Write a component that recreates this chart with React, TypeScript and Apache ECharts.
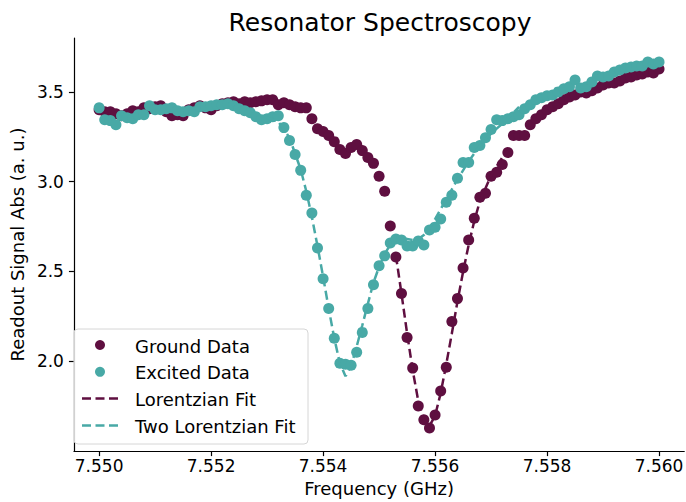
import React, { useEffect, useRef } from "react";
import * as echarts from "echarts";

const PURPLE = "#5f0f40";
const TEAL = "#48a9a6";
const FONT = "DejaVu Sans";

const freq = [
  7.5500, 7.5501, 7.5502, 7.5503, 7.5504, 7.5505, 7.5506, 7.5507, 7.5508, 7.5509,
  7.5510, 7.5511, 7.5512, 7.5513, 7.5514, 7.5515, 7.5516, 7.5517, 7.5518, 7.5519,
  7.5520, 7.5521, 7.5522, 7.5523, 7.5524, 7.5525, 7.5526, 7.5527, 7.5528, 7.5529,
  7.5530, 7.5531, 7.5532, 7.5533, 7.5534, 7.5535, 7.5536, 7.5537, 7.5538, 7.5539,
  7.5540, 7.5541, 7.5542, 7.5543, 7.5544, 7.5545, 7.5546, 7.5547, 7.5548, 7.5549,
  7.5550, 7.5551, 7.5552, 7.5553, 7.5554, 7.5555, 7.5556, 7.5557, 7.5558, 7.5559,
  7.5560, 7.5561, 7.5562, 7.5563, 7.5564, 7.5565, 7.5566, 7.5567, 7.5568, 7.5569,
  7.5570, 7.5571, 7.5572, 7.5573, 7.5574, 7.5575, 7.5576, 7.5577, 7.5578, 7.5579,
  7.5580, 7.5581, 7.5582, 7.5583, 7.5584, 7.5585, 7.5586, 7.5587, 7.5588, 7.5589,
  7.5590, 7.5591, 7.5592, 7.5593, 7.5594, 7.5595, 7.5596, 7.5597, 7.5598, 7.5599,
  7.5600,
];

const groundData = [
  3.400, 3.389, 3.389, 3.378, 3.367, 3.378, 3.395, 3.389, 3.411, 3.406,
  3.417, 3.423, 3.389, 3.367, 3.373, 3.367, 3.400, 3.411, 3.423, 3.411,
  3.400, 3.423, 3.434, 3.439, 3.445, 3.434, 3.445, 3.439, 3.445, 3.450,
  3.456, 3.456, 3.428, 3.439, 3.428, 3.417, 3.411, 3.411, 3.351, 3.295,
  3.279, 3.257, 3.223, 3.179, 3.157, 3.190, 3.207, 3.173, 3.135, 3.102,
  3.030, 2.947, 2.753, 2.581, 2.377, 2.133, 1.962, 1.751, 1.674, 1.629,
  1.701, 1.834, 1.967, 2.222, 2.349, 2.520, 2.675, 2.797, 2.913, 2.936,
  3.030, 3.052, 3.096, 3.162, 3.257, 3.257, 3.257, 3.317, 3.351, 3.373,
  3.400, 3.417, 3.434, 3.456, 3.472, 3.483, 3.500, 3.494, 3.506, 3.522,
  3.539, 3.550, 3.550, 3.561, 3.577, 3.583, 3.594, 3.600, 3.611, 3.605,
  3.627,
];

const excitedData = [
  3.411, 3.345, 3.340, 3.317, 3.367, 3.356, 3.351, 3.373, 3.373, 3.423,
  3.400, 3.400, 3.406, 3.411, 3.395, 3.389, 3.395, 3.389, 3.417, 3.417,
  3.423, 3.428, 3.428, 3.434, 3.423, 3.406, 3.395, 3.384, 3.362, 3.345,
  3.351, 3.362, 3.367, 3.301, 3.229, 3.151, 3.063, 2.924, 2.825, 2.631,
  2.460, 2.294, 2.128, 1.989, 1.984, 1.978, 2.050, 2.161, 2.294, 2.426,
  2.532, 2.587, 2.659, 2.681, 2.675, 2.642, 2.642, 2.670, 2.648, 2.731,
  2.747, 2.792, 2.886, 2.924, 3.019, 3.107, 3.107, 3.190, 3.201, 3.245,
  3.290, 3.345, 3.340, 3.351, 3.362, 3.373, 3.406, 3.428, 3.456, 3.467,
  3.478, 3.483, 3.500, 3.517, 3.528, 3.566, 3.522, 3.528, 3.555, 3.589,
  3.583, 3.589, 3.611, 3.622, 3.633, 3.638, 3.644, 3.644, 3.666, 3.655,
  3.666,
];

const groundFitFreq = [
  7.5553, 7.5554, 7.5555, 7.5556, 7.5557, 7.5558, 7.5559, 7.5560, 7.5561, 7.5562,
  7.5563, 7.5564, 7.5565, 7.5566, 7.5567, 7.5568, 7.5570, 7.5572, 7.5573,
];
const groundFitValues = [
  2.590, 2.377, 2.156, 1.951, 1.779, 1.674, 1.641, 1.696, 1.823, 1.984,
  2.156, 2.332, 2.498, 2.648, 2.781, 2.891, 3.035, 3.135, 3.170,
];

const excitedFitFreq = [
  7.5530, 7.5532, 7.5534, 7.5536, 7.5537, 7.5538, 7.5539, 7.5540, 7.5541, 7.5542,
  7.5543, 7.5544, 7.5545, 7.5546, 7.5547, 7.5548, 7.5549, 7.5550, 7.5551, 7.5552,
  7.5553, 7.5554, 7.5555, 7.5556, 7.5557, 7.5558, 7.5559, 7.5560, 7.5562, 7.5564,
  7.5566, 7.5568, 7.5570, 7.5572, 7.5574, 7.5575,
];
const excitedFitValues = [
  3.356, 3.334, 3.245, 3.068, 2.947, 2.803, 2.642, 2.471, 2.294, 2.128,
  1.989, 1.917, 1.973, 2.083, 2.200, 2.321, 2.438, 2.526, 2.598, 2.648,
  2.675, 2.686, 2.681, 2.675, 2.681, 2.703, 2.742, 2.792, 2.902, 3.013,
  3.113, 3.201, 3.268, 3.323, 3.384, 3.417,
];

const xTicks = [7.550, 7.552, 7.554, 7.556, 7.558, 7.560];
const yTicks = [2.0, 2.5, 3.0, 3.5];

const legendItems = [
  { name: "Ground Data", color: PURPLE, kind: "dot" },
  { name: "Excited Data", color: TEAL, kind: "dot" },
  { name: "Lorentzian Fit", color: PURPLE, kind: "dash" },
  { name: "Two Lorentzian Fit", color: TEAL, kind: "dash" },
];

const zip = (xs: number[], ys: number[]) => xs.map((x, i) => [x, ys[i]]);

export default function App() {
  const ref = useRef<HTMLDivElement>(null);
  useEffect(() => {
    if (!ref.current) return;
    const chart = echarts.init(ref.current, null, { renderer: "svg" });

    const legendGraphics: any[] = [
      {
        type: "rect",
        shape: { x: 74, y: 329, width: 234, height: 115, r: 4 },
        style: { fill: "rgba(255,255,255,0.8)", stroke: "#d6d6d6", lineWidth: 1 },
        z: 10,
      },
    ];
    legendItems.forEach((it, i) => {
      const cy = 345 + i * 26.8;
      if (it.kind === "dot") {
        legendGraphics.push({
          type: "circle",
          shape: { cx: 100, cy, r: 5 },
          style: { fill: it.color },
          z: 11,
        });
      } else {
        legendGraphics.push({
          type: "line",
          shape: { x1: 82, y1: cy, x2: 118, y2: cy },
          style: { stroke: it.color, lineWidth: 2.5, lineDash: [9, 4.5] },
          z: 11,
        });
      }
      legendGraphics.push({
        type: "text",
        x: 135,
        y: cy + 1,
        style: {
          text: it.name,
          fill: "#000",
          font: `18px "${FONT}"`,
          textVerticalAlign: "middle",
          verticalAlign: "middle",
        },
        z: 11,
      });
    });

    chart.setOption({
      animation: false,
      backgroundColor: "#fff",
      title: {
        text: "Resonator Spectroscopy",
        left: 375,
        top: 5,
        textAlign: "center",
        textStyle: { fontFamily: FONT, fontSize: 25, fontWeight: "normal", color: "#000" },
      },
      grid: { left: 65, right: 0, top: 38, bottom: 48.5 },
      xAxis: {
        type: "value",
        min: 7.54955,
        max: 7.56045,
        name: "Frequency (GHz)",
        nameLocation: "middle",
        nameGap: 25,
        nameTextStyle: { fontFamily: FONT, fontSize: 18, color: "#000" },
        axisLine: { show: true, lineStyle: { color: "#000", width: 1.2 } },
        axisTick: { show: true, length: 5, lineStyle: { color: "#000", width: 1.2 }, customValues: xTicks },
        axisLabel: {
          customValues: xTicks,
          formatter: (v: number) => v.toFixed(3),
          fontFamily: FONT,
          fontSize: 17,
          color: "#000",
          margin: 6,
        },
        splitLine: { show: false },
      },
      yAxis: {
        type: "value",
        min: 1.5,
        max: 3.8,
        name: "Readout Signal Abs (a. u.)",
        nameLocation: "middle",
        nameGap: 38,
        nameTextStyle: { fontFamily: FONT, fontSize: 18, color: "#000" },
        axisLine: { show: true, lineStyle: { color: "#000", width: 1.2 } },
        axisTick: { show: true, length: 5, lineStyle: { color: "#000", width: 1.2 }, customValues: yTicks },
        axisLabel: {
          customValues: yTicks,
          formatter: (v: number) => v.toFixed(1),
          fontFamily: FONT,
          fontSize: 17,
          color: "#000",
          margin: 10,
        },
        splitLine: { show: false },
      },
      series: [
        {
          name: "Ground Data",
          type: "scatter",
          data: zip(freq, groundData),
          symbol: "circle",
          symbolSize: 11,
          itemStyle: { color: PURPLE, opacity: 1 },
        },
        {
          name: "Excited Data",
          type: "scatter",
          data: zip(freq, excitedData),
          symbol: "circle",
          symbolSize: 11,
          itemStyle: { color: TEAL, opacity: 1 },
        },
        {
          name: "Lorentzian Fit",
          type: "line",
          data: zip(groundFitFreq, groundFitValues),
          showSymbol: false,
          symbol: "none",
          lineStyle: { color: PURPLE, width: 2.5, type: [9, 4.5] },
          itemStyle: { color: PURPLE },
        },
        {
          name: "Two Lorentzian Fit",
          type: "line",
          data: zip(excitedFitFreq, excitedFitValues),
          showSymbol: false,
          symbol: "none",
          lineStyle: { color: TEAL, width: 2.5, type: [9, 4.5] },
          itemStyle: { color: TEAL },
        },
      ],
      graphic: legendGraphics,
    });
    return () => chart.dispose();
  }, []);
  return (
    <div
      ref={ref}
      style={{ position: "fixed", left: 0, top: 0, width: 686, height: 502, background: "#fff" }}
    />
  );
}
